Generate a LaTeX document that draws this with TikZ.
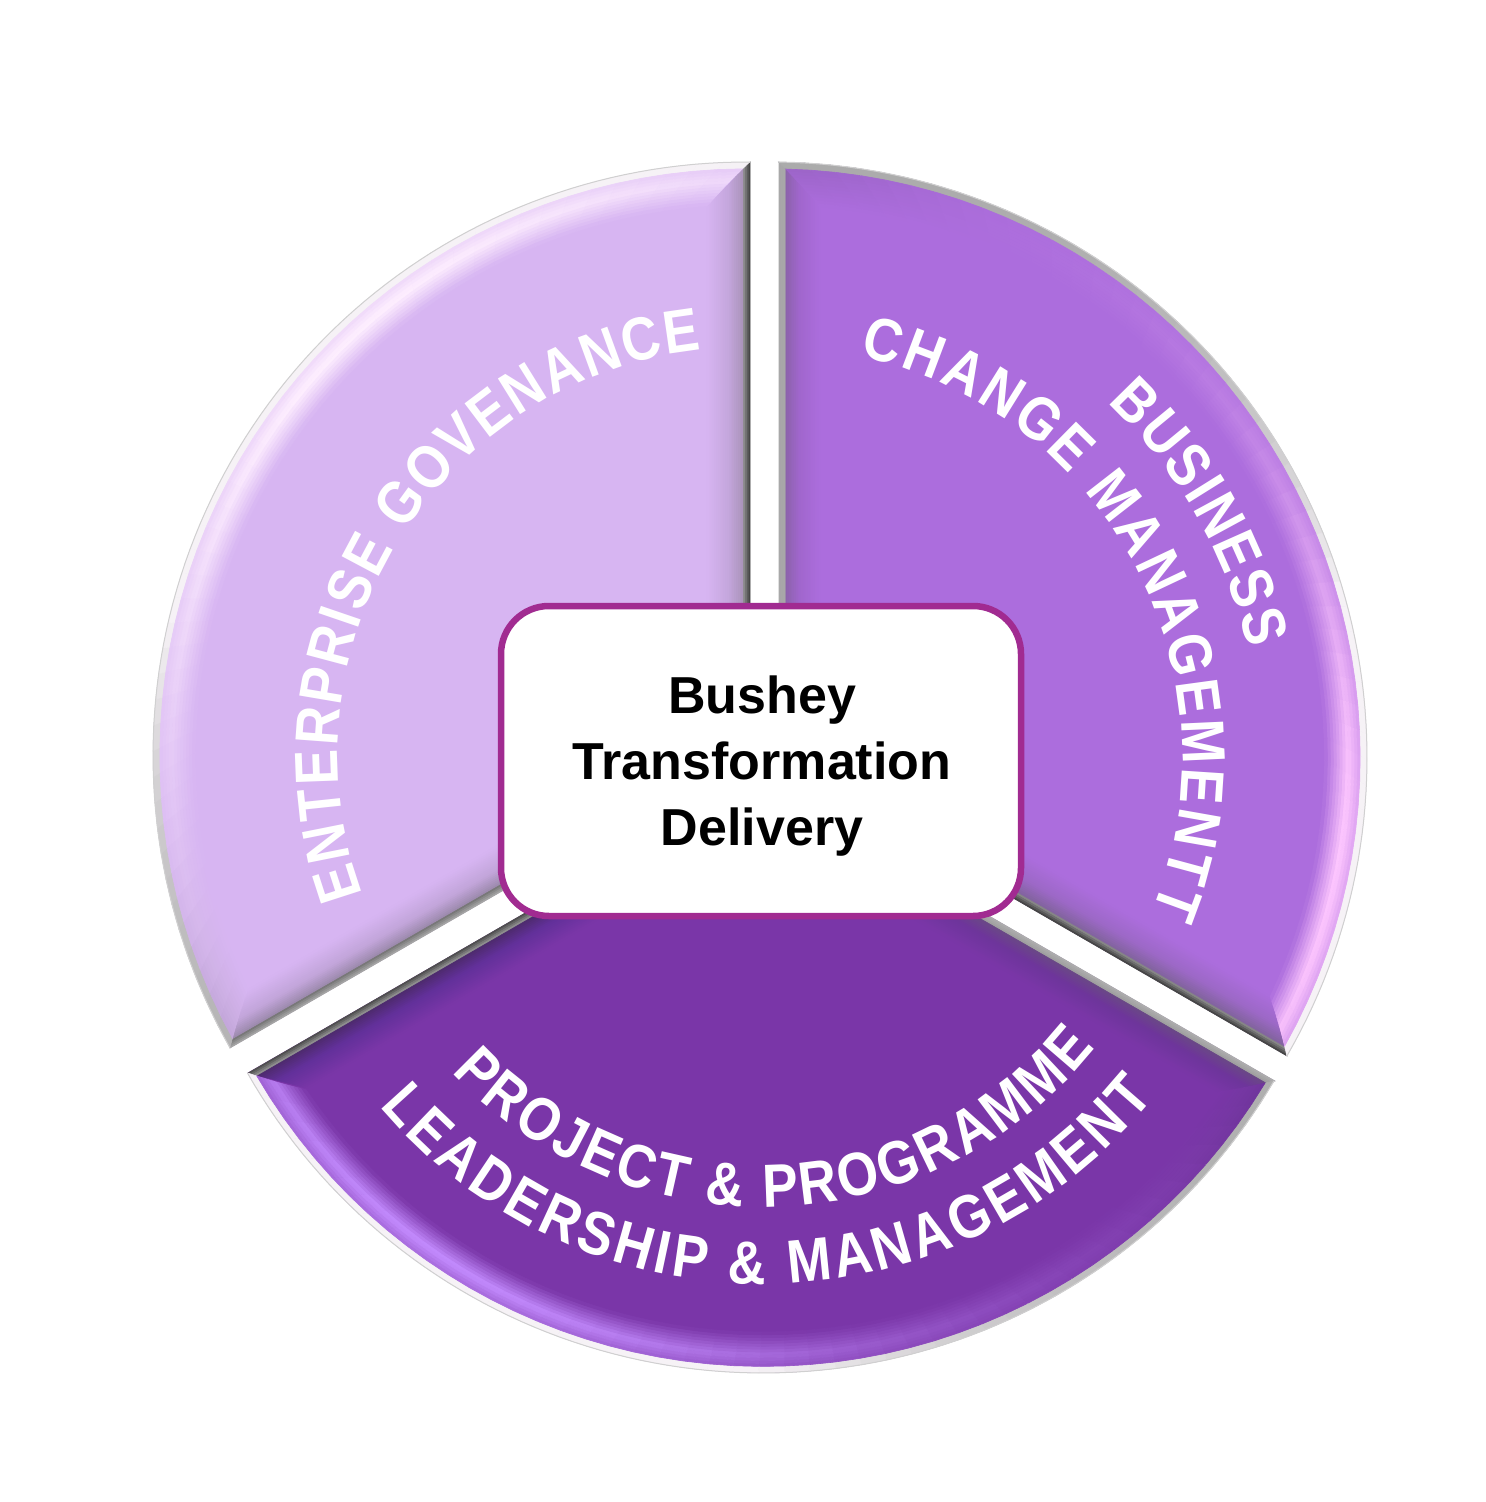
\documentclass[tikz,border=0pt]{standalone}
\usepackage{fontspec}
\usetikzlibrary{decorations.text,calc}
\setmainfont{Liberation Sans}
\newfontfamily\arcfam[FakeStretch=0.87]{Liberation Sans}
\newcommand\arcF{\arcfam\bfseries\fontsize{30.5}{30.5}\selectfont}
\definecolor{boxedge}{HTML}{A12B91}
\definecolor{rimgray}{HTML}{ABABAB}
\definecolor{rimlight}{HTML}{F6F2F6}
\definecolor{thinline}{HTML}{D0D0D0}
\newcommand\setpt[3]{%
  \pgfmathsetmacro\tmpa{\aA+(\aAi-\aA)*#3}%
  \pgfmathsetmacro\tmpb{\aB+(\aBi-\aB)*#3}%
  \pgfmathsetmacro\tmpang{\tmpa+(\tmpb-\tmpa)*#2}%
  \pgfmathsetmacro\tmpr{\Ro+(\Ri-\Ro)*#3}%
  \coordinate (#1) at ({\cx+\tmpr*cos(\tmpang)},{\cy+\tmpr*sin(\tmpang)});}
\newcommand\drawarcfacet{%
  \foreach \i in {1,...,48}{%
    \pgfmathsetmacro\ua{(\i-1)/48}%
    \pgfmathsetmacro\ub{\i/48}%
    \pgfmathsetmacro\um{(\i-.5)/48}%
    \setpt{m}{\um}{0.5}%
    \pgfmathsetmacro\am{\tmpang}%
    \pgfmathsetmacro\wg{ifthenelse(\am<\pk,\wl,\wr)}%
    \pgfmathsetmacro\gs{exp(-((\am-\pk)/\wg)*((\am-\pk)/\wg))}%
    \pgfmathsetmacro\shb{100*\shamt*exp(-((\am-\shang)/15)*((\am-\shang)/15))}%
    \pgfmathsetmacro\q{min(100,160*\gs)}%
    \colorlet{fc}{rimlight!\q!rimgray}%
    \setpt{p1}{\ua}{0}\setpt{p2}{\ub}{0}\setpt{p3}{\ub}{\vrim}\setpt{p4}{\ua}{\vrim}%
    \filldraw[fill=fc,draw=fc,line width=0.3pt] (p1)--(p2)--(p3)--(p4)--cycle;
    \foreach \j in {1,...,12}{%
      \pgfmathsetmacro\wa{(\j-1)/12}%
      \pgfmathsetmacro\wb{\j/12}%
      \pgfmathsetmacro\wm{(\j-.5)/12}%
      \pgfmathsetmacro\va{\vrim+(1-\vrim)*\wa}%
      \pgfmathsetmacro\vb{\vrim+(1-\vrim)*\wb}%
      \pgfmathsetmacro\prof{ifthenelse(\wm<0.35,0.6+0.4*\wm/0.35,(1-\wm)/0.65)}%
      \pgfmathsetmacro\pp{min(100,100*\gs*\prof)}%
      \pgfmathsetmacro\shc{\shb*(1-\wm)}%
      \colorlet{fc}{fcthi!\pp!fctbase}%
      \colorlet{fc}{fctsh!\shc!fc}%
      \setpt{p1}{\ua}{\va}\setpt{p2}{\ub}{\va}\setpt{p3}{\ub}{\vb}\setpt{p4}{\ua}{\vb}%
      \filldraw[fill=fc,draw=fc,line width=0.3pt] (p1)--(p2)--(p3)--(p4)--cycle;
    }%
  }%
  \draw[thinline,line width=0.5pt] plot[domain=\aA:\aB,samples=90] ({\cx+\Ro*cos(\x)},{\cy+\Ro*sin(\x)});
}
% #1 outer start, #2 inner start, #3 outer end, #4 inner end, #5-#8 colours
\newcommand\edgefacet[8]{%
  \definecolor{ea}{HTML}{#5}\definecolor{eb}{HTML}{#6}\definecolor{ec}{HTML}{#7}\definecolor{ed}{HTML}{#8}%
  \foreach \k in {1,...,24}{%
    \pgfmathsetmacro\ta{(\k-1)/24}%
    \pgfmathsetmacro\tb{\k/24}%
    \pgfmathsetmacro\tm{(\k-.5)/24}%
    \ifdim\tm pt<0.15pt
      \pgfmathsetmacro\mx{100*\tm/0.15}\colorlet{fc}{eb!\mx!ea}%
    \else\ifdim\tm pt<0.5pt
      \pgfmathsetmacro\mx{100*(\tm-0.15)/0.35}\colorlet{fc}{ed!\mx!ec}%
    \else
      \pgfmathsetmacro\mx{100*(\tm-0.5)/0.5}\colorlet{fc}{fctbase!\mx!ed}%
    \fi\fi
    \filldraw[fill=fc,draw=fc,line width=0.3pt]
      ($(#1)!\ta!(#2)$)--($(#1)!\tb!(#2)$)--($(#3)!\tb!(#4)$)--($(#3)!\ta!(#4)$)--cycle;
  }%
}
\tikzset{
  arclabel/.style={decorate,decoration={text along path,text color=white,text align={fit to path},text={|\arcF|#1}}},
  hubbox/.style={draw=boxedge,fill=white,line width=3.25pt,rounded corners=24pt,minimum width=260pt,minimum height=155pt,inner sep=0pt},
  hubtext/.style={align=center,font=\bfseries\fontsize{26}{33}\selectfont,text=black,inner sep=0pt}
}
\begin{document}
\begin{tikzpicture}[x=0.5pt,y=-0.5pt]
\useasboundingbox (0,0) rectangle (1485,1502);
\fill[white] (0,0) rectangle (1485,1502);

% ---------- left segment
\definecolor{fctbase}{HTML}{D7B5F2}\definecolor{fcthi}{HTML}{FFF0FF}\definecolor{fctsh}{HTML}{8A7A9A}
\coordinate (LA) at (750,162);\coordinate (LAi) at (707,207);
\coordinate (LB) at (230,1048);\coordinate (LBi) at (247,990);
\coordinate (LC) at (750,748);\coordinate (LCi) at (707,724.5);
\def\cx{746.5}\def\cy{755.5}\def\Ro{593.5}\def\Ri{551}\def\vrim{0.16}
\def\aA{150.5}\def\aAi{154.85}\def\aB{270.3}\def\aBi{265.9}
\def\pk{225}\def\wl{45}\def\wr{60}\def\shamt{0.3}\def\shang{150}
\fill[fctbase] (LC)--(LB)--plot[domain=\aA:\aB,samples=90] ({\cx+\Ro*cos(\x)},{\cy+\Ro*sin(\x)})--cycle;
\edgefacet{LA}{LAi}{LC}{LCi}{3A3A3A}{8D8D8D}{A892B8}{C4A6DC}
\edgefacet{LB}{LBi}{LC}{LCi}{ABABAB}{777777}{9A88AA}{C2A5DA}
\drawarcfacet

% ---------- right segment
\definecolor{fctbase}{HTML}{AC6DDD}\definecolor{fcthi}{HTML}{FFC8FF}\definecolor{fctsh}{HTML}{6A4A88}
\coordinate (RA) at (779,162);\coordinate (RAi) at (820,207);
\coordinate (RB) at (1287,1056);\coordinate (RBi) at (1272,997);
\coordinate (RC) at (779,763);\coordinate (RCi) at (820,736);
\def\cx{771.4}\def\cy{757.6}\def\Ro{595.6}\def\Ri{553}\def\vrim{0.16}
\def\aA{-89.3}\def\aAi{-84.96}\def\aB{30.06}\def\aBi{25.6}
\def\pk{10}\def\wl{38}\def\wr{60}\def\shamt{0.25}\def\shang{-89}
\fill[fctbase] (RC)--(RA)--plot[domain=\aA:\aB,samples=90] ({\cx+\Ro*cos(\x)},{\cy+\Ro*sin(\x)})--cycle;
\edgefacet{RA}{RAi}{RC}{RCi}{A8A8A8}{A8A8A8}{8A62A8}{A066CC}
\edgefacet{RB}{RBi}{RC}{RCi}{3A3A3A}{888888}{80639B}{9C68C6}
\drawarcfacet

% ---------- bottom segment
\definecolor{fctbase}{HTML}{7A36A8}\definecolor{fcthi}{HTML}{C48CFF}\definecolor{fctsh}{HTML}{4A2A70}
\coordinate (BA) at (1275,1081);\coordinate (BAi) at (1220,1093);
\coordinate (BB) at (248,1073);\coordinate (BBi) at (308,1088);
\coordinate (BC) at (754.5,780.6);\coordinate (BCi) at (754.5,829);
\def\cx{763}\def\cy{780}\def\Ro{593}\def\Ri{552}\def\vrim{0.16}
\def\aA{30.5}\def\aAi{34.4}\def\aB{150.4}\def\aBi{145.9}
\def\pk{125}\def\wl{50}\def\wr{50}\def\shamt{0.25}\def\shang{30}
\fill[fctbase] (BC)--(BA)--plot[domain=\aA:\aB,samples=90] ({\cx+\Ro*cos(\x)},{\cy+\Ro*sin(\x)})--cycle;
\edgefacet{BA}{BAi}{BC}{BCi}{B0B0B0}{A0A0A0}{6A4A85}{6E359B}
\edgefacet{BB}{BBi}{BC}{BCi}{444444}{909090}{4C2A6A}{62309A}
\drawarcfacet

% ---------- curved labels
\path[arclabel={ENTERPRISE GOVENANCE}] plot[domain=160.1:263.7,samples=80] ({746.5+408.5*cos(\x)},{755.5+408.5*sin(\x)});
\path[arclabel={BUSINESS}] plot[domain=-46.6:-12.9,samples=60] ({771.4+489*cos(\x)},{757.6+489*sin(\x)});
\path[arclabel={CHANGE MANAGEMENTT}] plot[domain=-77.6:22,samples=80] ({771.4+411*cos(\x)},{757.6+411*sin(\x)});
\path[arclabel={PROJECT {\&} PROGRAMME}] plot[domain=136.8:38.8,samples=80] ({763+427*cos(\x)},{780+427*sin(\x)});
\path[arclabel={LEADERSHIP {\&} MANAGEMENT}] plot[domain=139.6:39,samples=80] ({763+504*cos(\x)},{780+504*sin(\x)});

% ---------- hub
\node[hubbox] (hub) at (761,761) {};
\node[hubtext] (hubtitle) at (762,766.5) {Bushey\\Transformation\\Delivery};
\end{tikzpicture}
\end{document}
